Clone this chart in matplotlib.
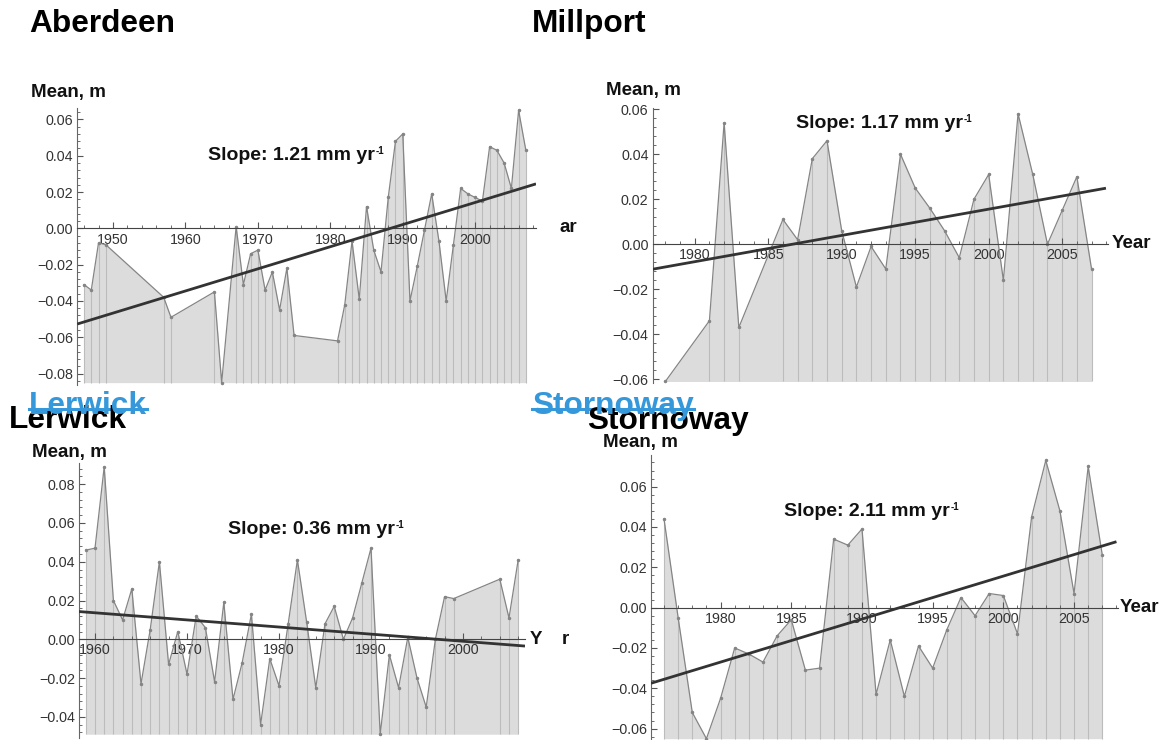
import matplotlib.pyplot as plt
from matplotlib.ticker import MultipleLocator, FuncFormatter
from matplotlib.lines import Line2D

plt.rcParams['font.family'] = ['Liberation Sans', 'DejaVu Sans']

W, H = 1164, 740

# ---- data (annual mean sea level anomaly, m) ----
aberdeen_years = [1946, 1947, 1948, 1949, 1957, 1958, 1964, 1965, 1967, 1968, 1969, 1970,
                  1971, 1972, 1973, 1974, 1975, 1981, 1982, 1983, 1984, 1985, 1986, 1987,
                  1988, 1989, 1990, 1991, 1992, 1993, 1994, 1995, 1996, 1997, 1998, 1999,
                  2000, 2001, 2002, 2003, 2004, 2005, 2006, 2007]
aberdeen_mean = [-0.031, -0.034, -0.008, -0.009, -0.038, -0.049, -0.035, -0.085, 0.001, -0.031,
                 -0.014, -0.012, -0.034, -0.024, -0.045, -0.022, -0.059, -0.062, -0.042, -0.007,
                 -0.039, 0.012, -0.012, -0.024, 0.017, 0.048, 0.052, -0.040, -0.021, -0.001,
                 0.019, -0.007, -0.040, -0.009, 0.022, 0.019, 0.017, 0.015, 0.045, 0.043,
                 0.036, 0.022, 0.065, 0.043]
aberdeen_trend_x = [1945.07, 2008.4]
aberdeen_trend_y = [-0.0527, 0.0245]

millport_years = [1978, 1981, 1982, 1983, 1986, 1987, 1988, 1989, 1990, 1991, 1992, 1993,
                  1994, 1995, 1996, 1997, 1998, 1999, 2000, 2001, 2002, 2003, 2004, 2005,
                  2006, 2007]
millport_mean = [-0.061, -0.034, 0.054, -0.037, 0.011, 0.002, 0.038, 0.046, 0.006, -0.019,
                 -0.001, -0.011, 0.040, 0.025, 0.016, 0.006, -0.006, 0.020, 0.031, -0.016,
                 0.058, 0.031, 0.000, 0.015, 0.030, -0.011]
millport_trend_x = [1977.14, 2007.98]
millport_trend_y = [-0.0111, 0.0249]

lerwick_years = list(range(1959, 2000)) + [2004, 2005, 2006]
lerwick_mean = [0.046, 0.047, 0.089, 0.020, 0.010, 0.026, -0.023, 0.005, 0.040, -0.013,
                0.004, -0.018, 0.012, 0.006, -0.022, 0.019, -0.031, -0.012, 0.013, -0.044,
                -0.010, -0.024, 0.008, 0.041, 0.009, -0.025, 0.008, 0.017, 0.000, 0.011,
                0.029, 0.047, -0.049, -0.008, -0.025, 0.001, -0.020, -0.035, 0.000, 0.022,
                0.021, 0.031, 0.011, 0.041]
lerwick_trend_x = [1958.26, 2006.74]
lerwick_trend_y = [0.0143, -0.0035]

stornoway_years = list(range(1976, 2008))
stornoway_mean = [0.044, -0.005, -0.052, -0.065, -0.045, -0.020, -0.023, -0.027, -0.014, -0.006,
                  -0.031, -0.030, 0.034, 0.031, 0.039, -0.043, -0.016, -0.044, -0.019, -0.030,
                  -0.011, 0.005, -0.004, 0.007, 0.006, -0.013, 0.045, 0.073, 0.048, 0.007,
                  0.070, 0.026]
stornoway_trend_x = [1975.08, 2008.0]
stornoway_trend_y = [-0.0375, 0.0327]

fig = plt.figure(figsize=(W / 100, H / 100), dpi=100)


def box(left, top, right, bottom):
    return [left / W, 1 - bottom / H, (right - left) / W, (bottom - top) / H]


def ftext(x, y, s, **kw):
    kw.setdefault('va', 'center')
    return fig.text(x / W, 1 - y / H, s, ha='left', **kw)


ylab = FuncFormatter(lambda v, pos: ('%.2f' % v).replace('-', '\u2212'))


def panel(rect, years, values, xlim, ylim, tx, ty, xmajor, xminor):
    ax = fig.add_axes(rect)
    ax.patch.set_alpha(0)
    ax.set_xlim(xlim)
    ax.set_ylim(ylim)
    base = min(values)
    ax.fill_between(years, values, base, color='#dcdcdc', lw=0, zorder=1)
    ax.vlines(years, base, values, color='#bcbcbc', lw=0.8, zorder=1.5)
    ax.plot(years, values, color='#858585', lw=0.9, marker='o', ms=1.5, zorder=2)
    ax.plot(tx, ty, color='#333333', lw=2.0, zorder=3, solid_capstyle='butt')
    for s in ['top', 'right']:
        ax.spines[s].set_visible(False)
    ax.spines['bottom'].set_position(('data', 0))
    ax.spines['bottom'].set_color('#444444')
    ax.spines['left'].set_color('#666666')
    ax.spines['bottom'].set_zorder(2.5)
    ax.xaxis.set_major_locator(MultipleLocator(xmajor))
    ax.xaxis.set_minor_locator(MultipleLocator(xminor))
    ax.yaxis.set_major_locator(MultipleLocator(0.02))
    ax.yaxis.set_minor_locator(MultipleLocator(0.004))
    ax.yaxis.set_major_formatter(ylab)
    ax.tick_params(which='both', direction='in', colors='#555555', labelcolor='#333333',
                   labelsize=10.3)
    ax.tick_params(which='major', length=4, width=0.8)
    ax.tick_params(which='minor', length=2.2, width=0.6)
    ax.tick_params(axis='x', pad=3)
    ax.tick_params(axis='y', pad=3)
    return ax


panel(box(77.3, 108, 536, 385), aberdeen_years, aberdeen_mean, (1945.07, 2008.4),
      (-0.0863, 0.0663), aberdeen_trend_x, aberdeen_trend_y, 10, 2)
panel(box(652.7, 108.3, 1108.3, 383.3), millport_years, millport_mean, (1977.14, 2008.14),
      (-0.0618, 0.0604), millport_trend_x, millport_trend_y, 5, 1)
panel(box(79, 463.3, 525, 738.3), lerwick_years, lerwick_mean, (1958.26, 2006.74),
      (-0.0511, 0.0908), lerwick_trend_x, lerwick_trend_y, 10, 2)
panel(box(651, 455, 1118.3, 739.5), stornoway_years, stornoway_mean, (1975.08, 2008.13),
      (-0.0654, 0.0757), stornoway_trend_x, stornoway_trend_y, 5, 1)

# station titles
title_kw = dict(fontsize=22.8, fontweight='bold', color='black')
ftext(29, 24, 'Aberdeen', **title_kw)
ftext(532, 24, 'Millport', **title_kw)
ftext(9, 420, 'Lerwick', **title_kw)
ftext(587, 421, 'Stornoway', **title_kw)

blue = '#3498db'
blue_titles = [ftext(29, 406, 'Lerwick', fontsize=22.8, fontweight='bold', color=blue),
               ftext(532, 406, 'Stornoway', fontsize=22.8, fontweight='bold', color=blue)]

# axis labels
lab_kw = dict(fontsize=13.5, fontweight='bold', color='#111111')
ftext(31, 93, 'Mean, m', **lab_kw)
ftext(606, 90, 'Mean, m', **lab_kw)
ftext(32, 452, 'Mean, m', **lab_kw)
ftext(603, 442, 'Mean, m', **lab_kw)

ftext(560, 228, 'ar', **lab_kw)
ftext(1112, 243, 'Year', **lab_kw)
ftext(530, 639, 'Y', **lab_kw)
ftext(562, 639, 'r', **lab_kw)
ftext(1120, 607, 'Year', **lab_kw)

slope_kw = dict(fontsize=14, fontweight='bold', color='#111111')
slope_pos = [(208, 156), (796, 124), (228, 530), (784, 511)]
slope_txt = ['Slope: 1.21 mm yr', 'Slope: 1.17 mm yr', 'Slope: 0.36 mm yr',
             'Slope: 2.11 mm yr']
slopes = [ftext(x, y, s, **slope_kw) for (x, y), s in zip(slope_pos, slope_txt)]

fig.canvas.draw()
r = fig.canvas.get_renderer()
for t in blue_titles:
    bb = t.get_window_extent(r)
    fig.add_artist(Line2D([bb.x0 / W, bb.x1 / W], [1 - 409 / H, 1 - 409 / H],
                          color=blue, lw=2.2))
# small "-1" exponent after each slope text
for t, (x, y) in zip(slopes, slope_pos):
    bb = t.get_window_extent(r)
    ftext(bb.x1 + 0.5, y - 1.5, '-1', fontsize=7, fontweight='bold',
          color='#111111', va='baseline')

fig.savefig('out.png', dpi=100)
